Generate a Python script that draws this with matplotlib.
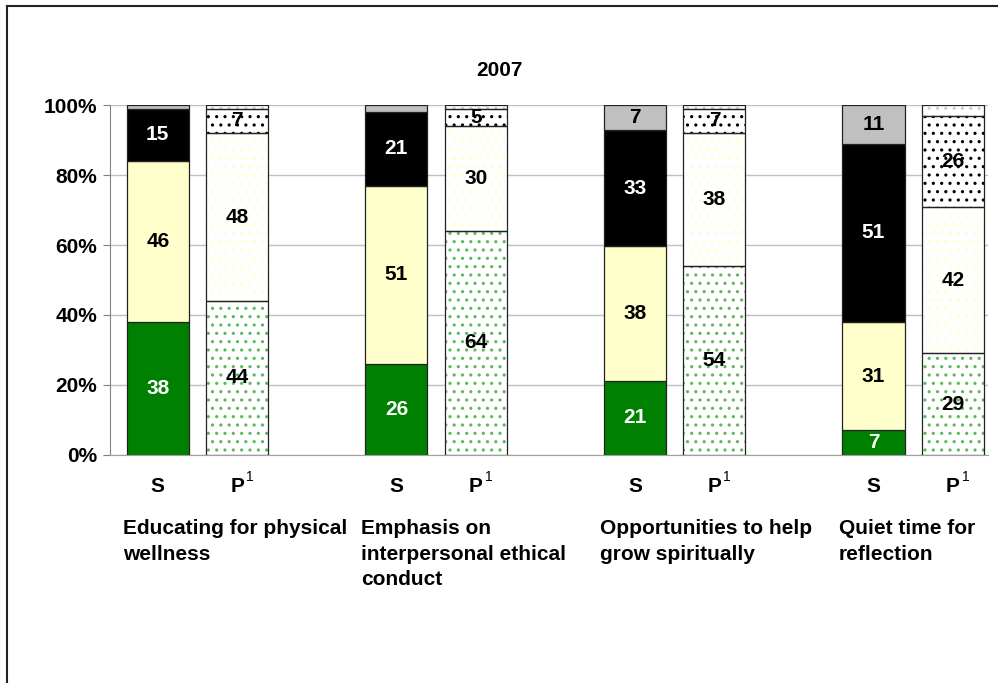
import numpy as np
import matplotlib
matplotlib.use("Agg")
import matplotlib.pyplot as plt
from matplotlib.lines import Line2D
import matplotlib.transforms as mtransforms

plt.rcParams["font.family"] = ["Liberation Sans", "DejaVu Sans"]
plt.rcParams["hatch.linewidth"] = 1.1

title = "2007"
groups = ["Educating for physical\nwellness",
          "Emphasis on\ninterpersonal ethical\nconduct",
          "Opportunities to help\ngrow spiritually",
          "Quiet time for\nreflection"]

# S bars (bottom -> top)
s_green = [38, 26, 21, 7]
s_yellow = [46, 51, 38, 31]
s_black = [15, 21, 33, 51]
s_gray = [1, 2, 7, 11]

# P bars (bottom -> top)
p_green = [44, 64, 54, 29]
p_white = [48, 30, 38, 42]
p_dots = [7, 5, 7, 26]
p_top = [1, 1, 1, 3]

yticks = [0, 20, 40, 60, 80, 100]

FS = 15

fig = plt.figure(figsize=(9.98, 6.83), dpi=100)
ax = fig.add_axes([0.110, 0.334, 0.880, 0.512])

width = 0.78
x_s = np.arange(len(groups)) * 3.0
x_p = x_s + 1


def stack(ax, x, series, styles):
    data = np.array(series, dtype=float)
    tot = data.sum(axis=0)
    bottom = np.zeros(len(x))
    for vals, st in zip(data, styles):
        h = vals / tot * 100
        if st.get("hatch"):
            ax.bar(x, h, width, bottom=bottom, color=st["face"],
                   edgecolor=st["hcolor"], hatch=st["hatch"], linewidth=0, zorder=2)
            ax.bar(x, h, width, bottom=bottom, facecolor="none",
                   edgecolor="#222222", linewidth=0.9, zorder=3)
        else:
            ax.bar(x, h, width, bottom=bottom, color=st["face"],
                   edgecolor="#222222", linewidth=0.9, zorder=2)
        for xi, b, hi, v in zip(x, bottom, h, vals):
            if v >= 5:
                bb = None
                if st.get("box") and hi < 8:
                    bb = dict(boxstyle="square,pad=0.12", facecolor=st["face"], edgecolor="none")
                ax.text(xi, b + hi / 2, f"{int(v)}", ha="center", va="center",
                        fontsize=FS, fontweight="bold", color=st["text"], zorder=4, bbox=bb)
        bottom += h


s_styles = [
    dict(face="#008000", text="white", box=True),
    dict(face="#FFFFCC", text="black"),
    dict(face="#000000", text="white"),
    dict(face="#C0C0C0", text="black"),
]
p_styles = [
    dict(face="white", hcolor="#5CB85C", hatch="..", text="black"),
    dict(face="white", hcolor="#FFFFD0", hatch="..", text="black"),
    dict(face="white", hcolor="#000000", hatch="..", text="black"),
    dict(face="white", hcolor="#D0D0D0", hatch="..", text="black"),
]

stack(ax, x_s, [s_green, s_yellow, s_black, s_gray], s_styles)
stack(ax, x_p, [p_green, p_white, p_dots, p_top], p_styles)

ax.set_ylim(0, 100)
ax.set_xlim(-0.604, 10.44)
ax.set_yticks(yticks)
ax.set_yticklabels([f"{t}%" for t in yticks], fontsize=FS, fontweight="bold")
ax.yaxis.grid(True, color="#C0C0C0", linewidth=1)
ax.set_axisbelow(True)
ax.set_xticks([])
for side in ["top", "right"]:
    ax.spines[side].set_visible(False)
ax.spines["left"].set_color("#808080")
ax.spines["bottom"].set_color("#A0A0A0")
ax.tick_params(axis="y", length=5, color="#808080", pad=4)

trans = mtransforms.blended_transform_factory(ax.transData, fig.transFigure)
y_sp = 1 - 486 / 683
for xs, xp in zip(x_s, x_p):
    ax.text(xs, y_sp, "S", transform=trans, ha="center", va="center",
            fontsize=FS, fontweight="bold")
    ax.text(xp, y_sp, "P", transform=trans, ha="center", va="center",
            fontsize=FS, fontweight="bold")
    ax.text(xp + 0.11, y_sp + 0.013, "1", transform=trans, ha="left", va="center",
            fontsize=10)

for xs, g in zip(x_s, groups):
    ax.text(xs - 0.44, 1 - 519 / 683, g, transform=trans, ha="left", va="top",
            fontsize=FS, fontweight="bold", linespacing=1.44)

fig.text(0.5, 1 - 70 / 683, title, ha="center", va="center",
         fontsize=FS, fontweight="bold")

# outer frame (left and top edges visible)
fig.add_artist(Line2D([6.5 / 998, 6.5 / 998], [0, 1 - 5.5 / 683], color="#222222",
                      linewidth=1.5, transform=fig.transFigure))
fig.add_artist(Line2D([6.5 / 998, 1], [1 - 5.5 / 683, 1 - 5.5 / 683], color="#222222",
                      linewidth=1.5, transform=fig.transFigure))

fig.savefig("out.png", dpi=100)
